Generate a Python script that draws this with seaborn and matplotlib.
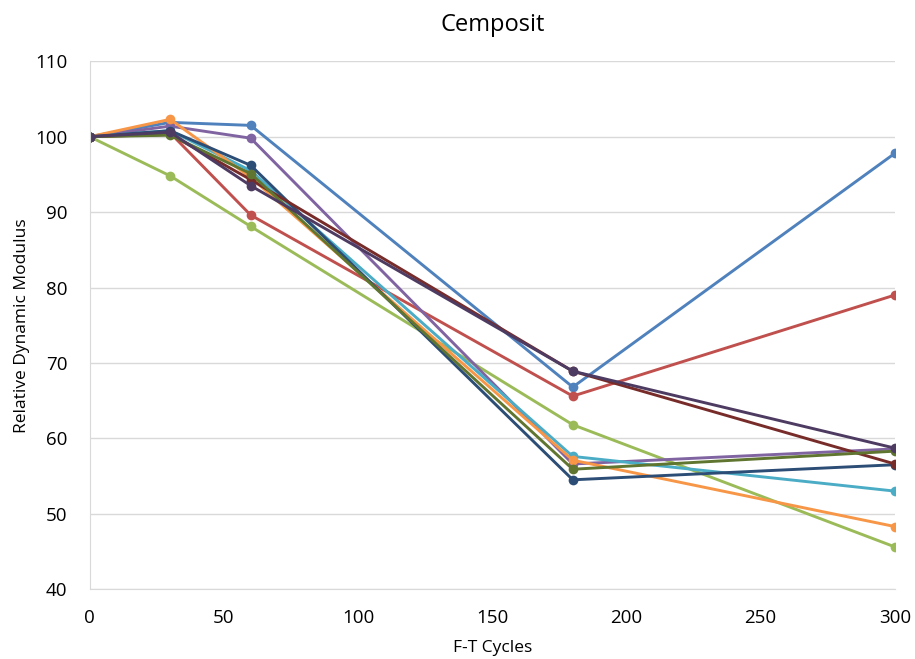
import matplotlib
matplotlib.use("Agg")
import matplotlib.pyplot as plt
import seaborn as sns
import pandas as pd

cycles = [0, 30, 60, 180, 300]

s1 = [100, 101.9, 101.5, 66.8, 97.8]
s2 = [100, 100.5, 89.6, 65.6, 79.0]
s3 = [100, 94.8, 88.1, 61.8, 45.6]
s4 = [100, 101.4, 99.8, 56.6, 58.6]
s5 = [100, 100.8, 95.5, 57.6, 53.0]
s6 = [100, 102.3, 94.6, 57.1, 48.3]
s7 = [100, 100.8, 96.2, 54.5, 56.5]
s8 = [100, 100.3, 94.3, 68.9, 56.6]
s9 = [100, 100.2, 95.1, 55.9, 58.3]
s10 = [100, 100.6, 93.5, 68.9, 58.7]

series = [s1, s2, s3, s4, s5, s6, s7, s8, s9, s10]
names = ["S%d" % (i + 1) for i in range(len(series))]
colors = ["#4F81BD", "#C0504D", "#9BBB59", "#8064A2", "#4BACC6",
          "#F79646", "#2C4D75", "#772C2A", "#5F7530", "#4D3B62"]

rows = []
for name, vals in zip(names, series):
    for c, v in zip(cycles, vals):
        rows.append({"cycles": c, "value": v, "series": name})
df = pd.DataFrame(rows)

sns.set_style("white")
plt.rcParams["font.family"] = ["Open Sans", "DejaVu Sans"]
plt.rcParams["text.color"] = "black"
plt.rcParams["axes.labelcolor"] = "black"

fig = plt.figure(figsize=(9.15, 6.59), dpi=100)
ax = fig.add_axes([0.098, 0.106, 0.88, 0.801])

sns.lineplot(data=df, x="cycles", y="value", hue="series", hue_order=names,
             palette=colors, marker="o", markersize=7, markeredgewidth=0,
             linewidth=2.1, legend=False, ax=ax)

ax.set_xlim(0, 300)
ax.set_ylim(40, 110)
ax.set_xticks([0, 50, 100, 150, 200, 250, 300])
ax.set_yticks(range(40, 111, 10))
ax.grid(axis="y", color="#D9D9D9", linewidth=1)
ax.set_axisbelow(True)
for side in ["top", "right"]:
    ax.spines[side].set_visible(False)
ax.spines["left"].set_color("#D9D9D9")
ax.spines["bottom"].set_color("#D9D9D9")
for sp in ax.spines.values():
    sp.set_clip_on(False)

ax.tick_params(axis="both", length=0, labelsize=13.5, colors="black")
ax.tick_params(axis="x", pad=14)
ax.tick_params(axis="y", pad=16)
ax.set_xlabel("F-T Cycles", fontsize=12.5, labelpad=10)
ax.set_ylabel("Relative Dynamic Modulus", fontsize=12.5, labelpad=4)
ax.set_title("Cemposit", fontsize=17, pad=22, color="black")

fig.savefig("out.png", dpi=100)
